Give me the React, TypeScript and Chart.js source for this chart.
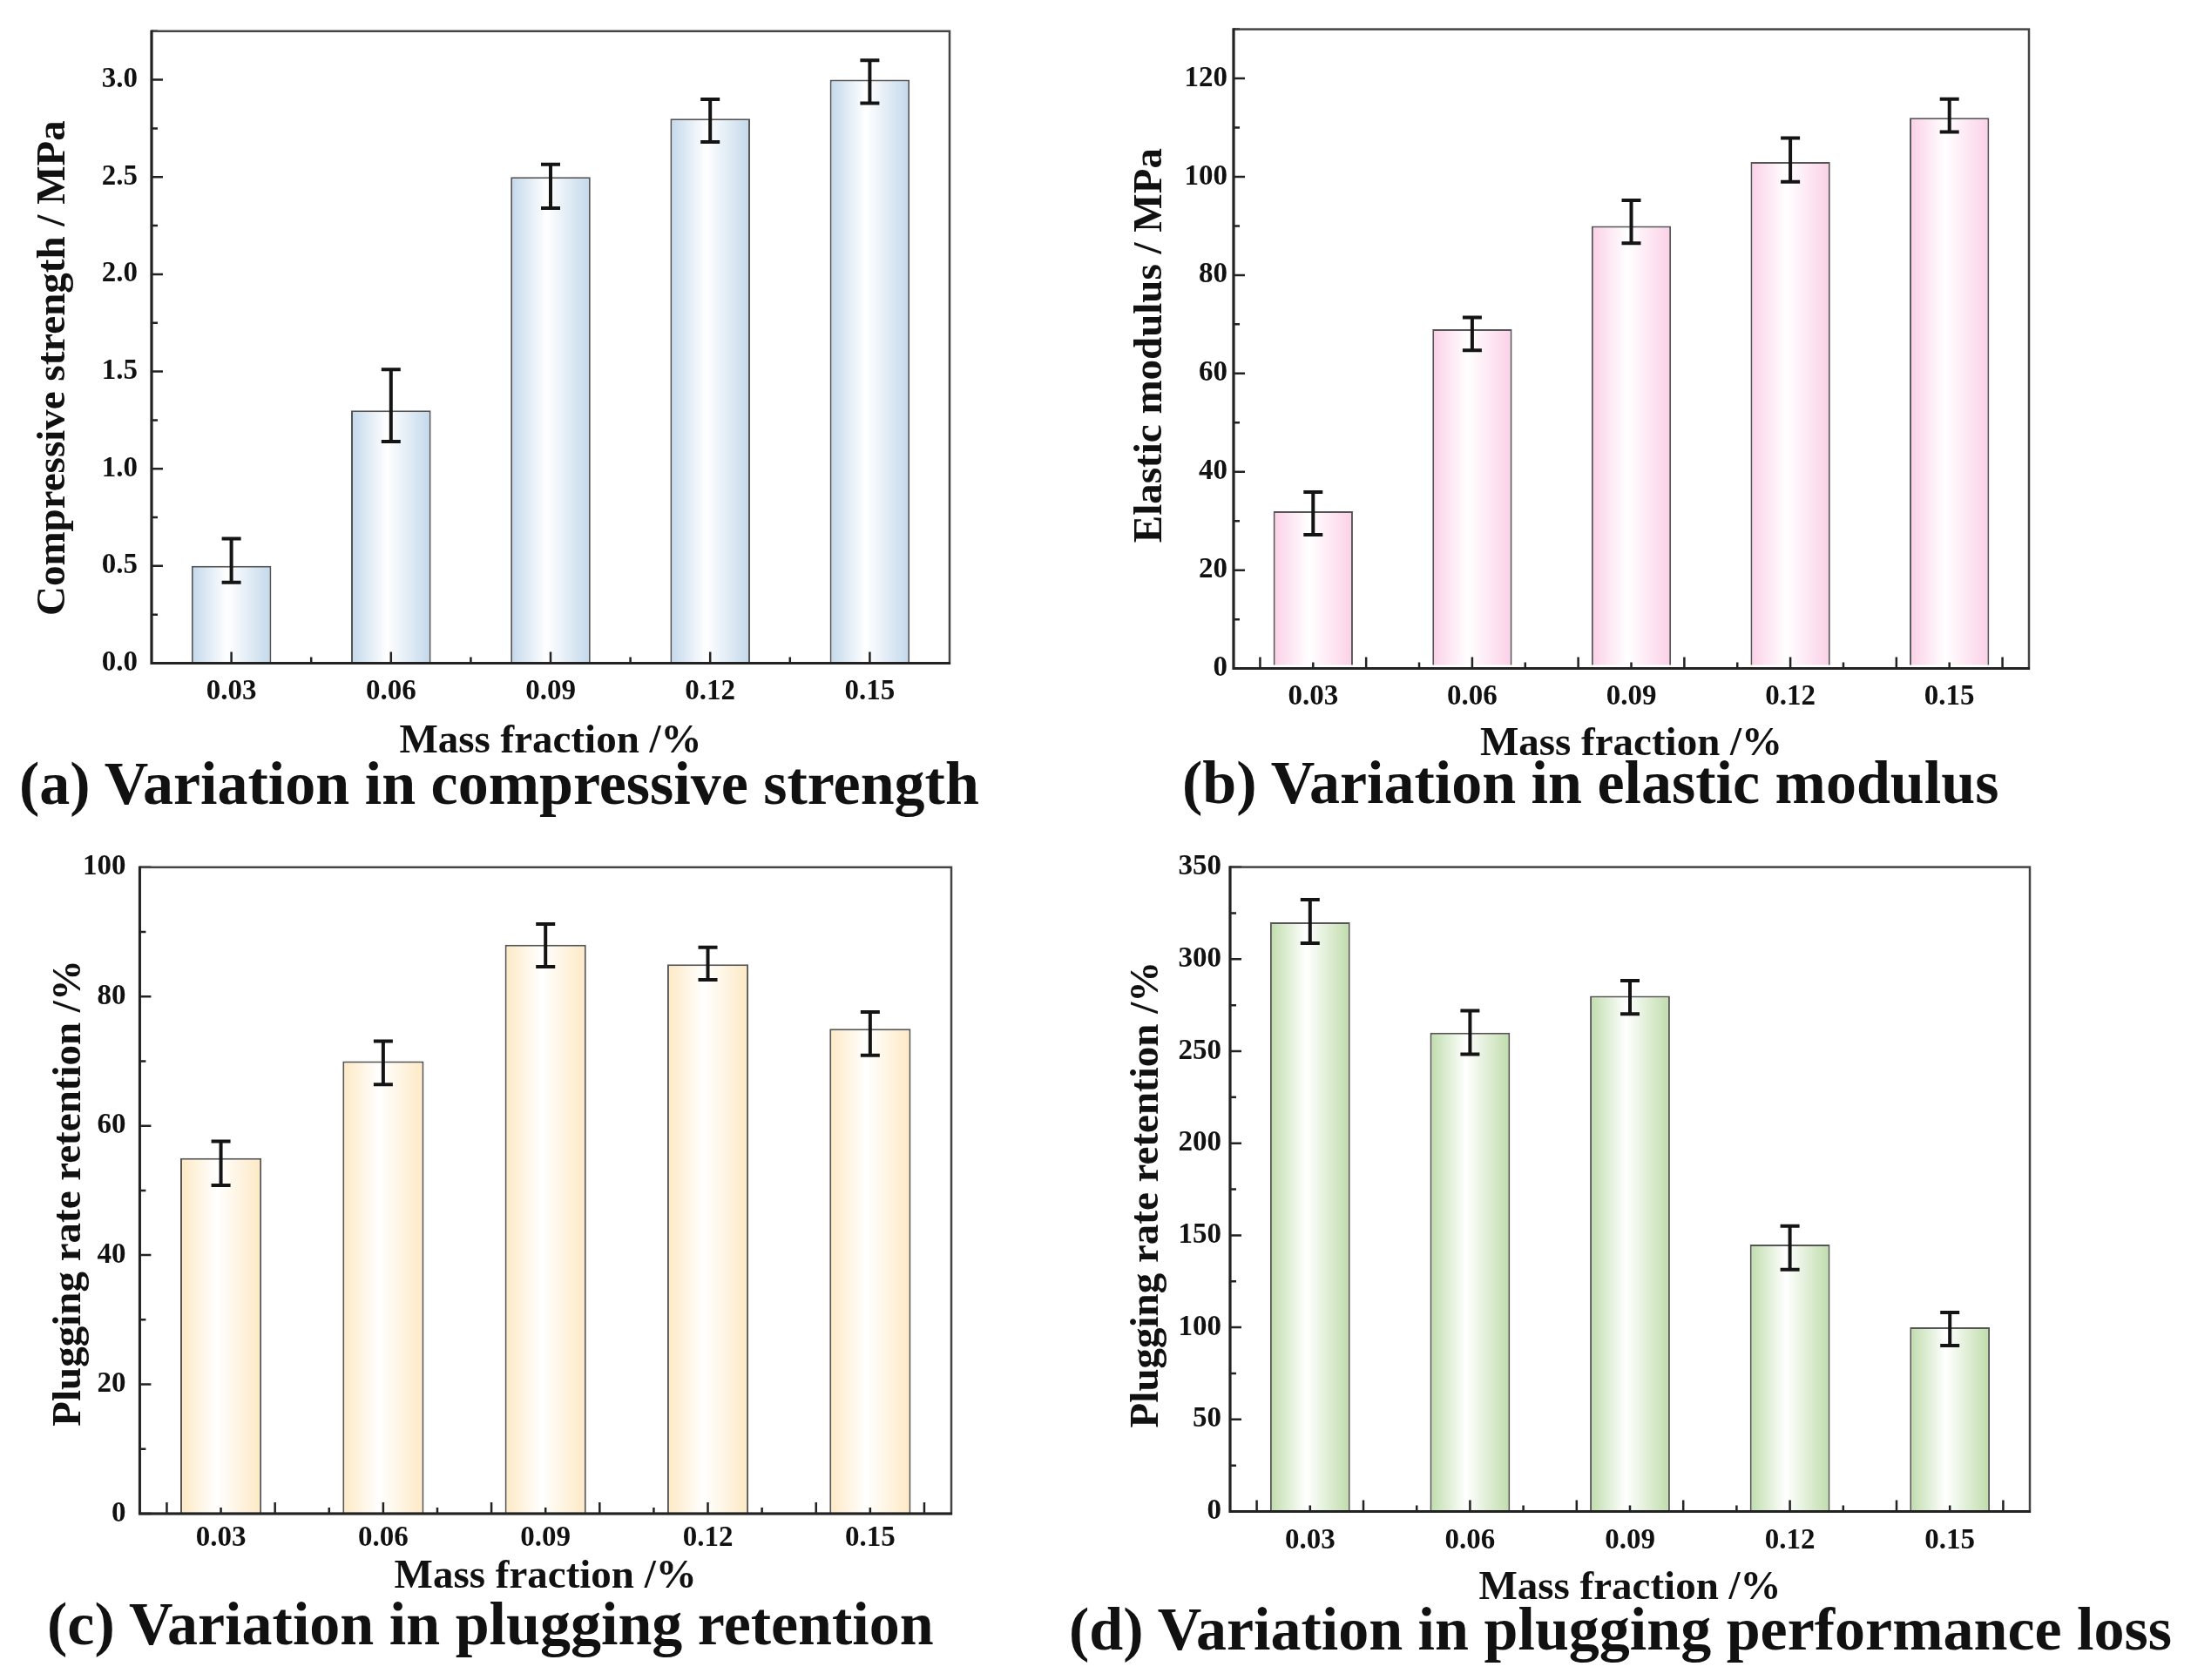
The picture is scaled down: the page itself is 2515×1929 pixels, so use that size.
import React, { useEffect, useRef } from 'react';
import { Chart, registerables } from 'chart.js';

Chart.register(...registerables);

// ---------- data ----------
const categories = ['0.03', '0.06', '0.09', '0.12', '0.15'];

const compressiveStrength = [0.5, 1.3, 2.5, 2.8, 3.0];
const compressiveErrUp = [0.14, 0.21, 0.065, 0.1, 0.1];
const compressiveErrDown = [0.085, 0.16, 0.16, 0.12, 0.12];

const elasticModulus = [32, 69, 90, 103, 112];
const elasticErrUp = [3.9, 2.4, 5.2, 4.9, 3.8];
const elasticErrDown = [4.8, 4.3, 3.5, 4.0, 2.9];

const pluggingRetention = [55, 70, 88, 85, 75];
const retentionErrUp = [2.6, 3.1, 3.2, 2.6, 2.6];
const retentionErrDown = [4.2, 3.6, 3.4, 2.4, 4.1];

const pluggingLoss = [320, 260, 280, 145, 100];
const lossErrUp = [12.3, 12, 8.3, 10, 8.1];
const lossErrDown = [11.4, 11.6, 9.8, 13.6, 9.9];

// minor x tick positions (mass fraction units)
const xTicksHalf = [0.03, 0.045, 0.06, 0.075, 0.09, 0.105, 0.12, 0.135, 0.15];
const xTicksHundredth = [0.02, 0.03, 0.04, 0.05, 0.06, 0.07, 0.08, 0.09, 0.1, 0.11, 0.12, 0.13, 0.14, 0.15, 0.16];

const FONT = "'Liberation Serif', 'Times New Roman', serif";

type Panel = {
  key: string;
  values: number[];
  up: number[];
  down: number[];
  yMax: number;
  yStep: number;
  yMinor: number;
  decimals: number;
  yTitle: string;
  color: string;
  caption: string;
  x0: number; y0: number; w: number; h: number;
  plot: { l: number; r: number; t: number; b: number };
  yTitlePad: number;
  yTitleShift: number;
  yTickPad: number;
  xTickPad: number;
  xTitlePadB: number;
  xTicks: number[];
  xMajor: (v: number) => boolean;
  captionLeft: number;
  captionTop: number;
};

const PANELS: Panel[] = [
  {
    key: 'a', values: compressiveStrength, up: compressiveErrUp, down: compressiveErrDown,
    yMax: 3.25, yStep: 0.5, yMinor: 0.25, decimals: 1,
    yTitle: 'Compressive strength / MPa', color: '#c3d8eb',
    caption: '(a) Variation in compressive strength',
    x0: 0, y0: 0, w: 1257, h: 960,
    plot: { l: 174, r: 1090, t: 22.6, b: 761.5 },
    yTitlePad: 38, yTitleShift: 24, yTickPad: 16, xTickPad: 13, xTitlePadB: 16,
    xTicks: xTicksHalf, xMajor: (v) => Math.abs(v / 0.03 - Math.round(v / 0.03)) < 1e-6,
    captionLeft: 22, captionTop: 865,
  },
  {
    key: 'b', values: elasticModulus, up: elasticErrUp, down: elasticErrDown,
    yMax: 130, yStep: 20, yMinor: 10, decimals: 0,
    yTitle: 'Elastic modulus / MPa', color: '#fbd0e7',
    caption: '(b) Variation in elastic modulus',
    x0: 1257, y0: 0, w: 1258, h: 960,
    plot: { l: 1416, r: 2329, t: 33.6, b: 767.6 },
    yTitlePad: 40.5, yTitleShift: -4, yTickPad: 7, xTickPad: 13, xTitlePadB: 19,
    xTicks: xTicksHundredth, xMajor: (v) => Math.round(v * 100) % 2 === 0,
    captionLeft: 1357, captionTop: 864,
  },
  {
    key: 'c', values: pluggingRetention, up: retentionErrUp, down: retentionErrDown,
    yMax: 100, yStep: 20, yMinor: 10, decimals: 0,
    yTitle: 'Plugging rate retention /%', color: '#fde9c4',
    caption: '(c) Variation in plugging retention',
    x0: 0, y0: 960, w: 1257, h: 969,
    plot: { l: 160.4, r: 1092, t: 986.2, b: 1738 },
    yTitlePad: 56.5, yTitleShift: 3, yTickPad: 16, xTickPad: 9, xTitlePadB: 34,
    xTicks: xTicksHundredth, xMajor: (v) => Math.round(v * 100) % 2 === 0,
    captionLeft: 54, captionTop: 1830,
  },
  {
    key: 'd', values: pluggingLoss, up: lossErrUp, down: lossErrDown,
    yMax: 350, yStep: 50, yMinor: 25, decimals: 0,
    yTitle: 'Plugging rate retention /%', color: '#bfdcab',
    caption: '(d) Variation in plugging performance loss',
    x0: 1257, y0: 960, w: 1258, h: 969,
    plot: { l: 1412, r: 2330, t: 995.6, b: 1735.5 },
    yTitlePad: 36.5, yTitleShift: 6, yTickPad: 10, xTickPad: 14, xTitlePadB: 18,
    xTicks: xTicksHundredth, xMajor: (v) => Math.round(v * 100) % 2 === 0,
    captionLeft: 1227, captionTop: 1836,
  },
];

const X_AXIS_H = 130;

const decorPlugin = {
  id: 'decor',
  afterLayout(chart: any, _args: any, opts: any) {
    // nudge the y-axis title along the axis (ticks keep their configured pixels)
    const ys = chart.scales.y;
    if (ys && opts.yTitleShift) {
      ys.top += opts.yTitleShift;
      ys.bottom += opts.yTitleShift;
    }
  },
  afterDatasetsDraw(chart: any, _args: any, opts: any) {
    const ctx = chart.ctx;
    const { left, right, top, bottom } = chart.chartArea;
    const xs = chart.scales.x;
    const ys = chart.scales.y;
    const meta = chart.getDatasetMeta(0);
    ctx.save();
    // error bars
    ctx.strokeStyle = '#141414';
    ctx.lineWidth = 4;
    ctx.lineCap = 'butt';
    meta.data.forEach((el: any, i: number) => {
      const v = opts.values[i];
      const x = el.getProps(['x'], true).x;
      const yt = ys.getPixelForValue(v + opts.up[i]);
      const yb = ys.getPixelForValue(v - opts.down[i]);
      ctx.beginPath();
      ctx.moveTo(x, yt); ctx.lineTo(x, yb);
      ctx.moveTo(x - 11, yt); ctx.lineTo(x + 11, yt);
      ctx.moveTo(x - 11, yb); ctx.lineTo(x + 11, yb);
      ctx.stroke();
    });
    // inward ticks
    ctx.strokeStyle = '#222';
    ctx.lineWidth = 2.5;
    ctx.beginPath();
    for (let k = 0; k * opts.yMinor <= opts.yMax + 1e-9; k++) {
      const v = k * opts.yMinor;
      const y = ys.getPixelForValue(v);
      const major = Math.abs(v / opts.yStep - Math.round(v / opts.yStep)) < 1e-6;
      ctx.moveTo(left, y);
      ctx.lineTo(left + (major ? 13 : 7), y);
    }
    opts.xTicks.forEach((v: number) => {
      const idx = v / 0.03 - 1;
      const x = xs.getPixelForValue(idx);
      const major = opts.xMajor(v);
      ctx.moveTo(x, bottom);
      ctx.lineTo(x, bottom - (major ? 13 : 7));
    });
    ctx.stroke();
    // frame
    ctx.strokeStyle = '#444';
    ctx.lineWidth = 2.5;
    ctx.strokeRect(left, top, right - left, bottom - top);
    ctx.strokeStyle = '#222';
    ctx.lineWidth = 3;
    ctx.beginPath();
    ctx.moveTo(left, top - 1); ctx.lineTo(left, bottom); ctx.lineTo(right + 1, bottom);
    ctx.stroke();
    ctx.restore();
  },
};

function BarPanel({ p }: { p: Panel }) {
  const ref = useRef<HTMLCanvasElement | null>(null);
  useEffect(() => {
    if (!ref.current) return;
    const yWidth = p.plot.l - p.x0;
    const padTop = p.plot.t - p.y0;
    const padRight = p.x0 + p.w - p.plot.r;
    const padBottom = p.y0 + p.h - p.plot.b - X_AXIS_H;
    const gradientFill = (c: any) => {
      const chart = c.chart;
      const xs = chart.scales && chart.scales.x;
      if (!xs || !chart.chartArea || c.dataIndex == null) return p.color;
      const x = xs.getPixelForValue(c.dataIndex);
      const w = (xs.width / categories.length) * 0.5;
      if (!isFinite(x) || !isFinite(w) || w <= 0) return p.color;
      const g = chart.ctx.createLinearGradient(x - w / 2, 0, x + w / 2, 0);
      g.addColorStop(0, p.color);
      g.addColorStop(0.45, '#ffffff');
      g.addColorStop(1, p.color);
      return g;
    };
    const chart = new Chart(ref.current, {
      type: 'bar',
      data: {
        labels: categories,
        datasets: [
          {
            data: p.values,
            backgroundColor: gradientFill,
            borderColor: '#555',
            borderWidth: 2,
            barPercentage: 1,
            categoryPercentage: 0.5,
          },
        ],
      },
      plugins: [decorPlugin as any],
      options: {
        animation: false,
        responsive: false,
        devicePixelRatio: 1,
        layout: { padding: { left: 0, top: padTop, right: padRight, bottom: padBottom } },
        plugins: {
          legend: { display: false },
          tooltip: { enabled: false },
          decor: {
            values: p.values, up: p.up, down: p.down,
            yMax: p.yMax, yStep: p.yStep, yMinor: p.yMinor, xTicks: p.xTicks, xMajor: p.xMajor,
            yTitleShift: p.yTitleShift,
          },
        } as any,
        scales: {
          x: {
            grid: { display: false, drawTicks: false },
            border: { display: false },
            ticks: {
              color: '#111',
              padding: p.xTickPad,
              font: { family: FONT, size: 33, weight: 'bold', lineHeight: 1.2 },
              maxRotation: 0,
            },
            title: {
              display: true,
              text: 'Mass fraction /%',
              color: '#111',
              font: { family: FONT, size: 47, weight: 'bold', lineHeight: 1 },
              padding: { top: 0, bottom: p.xTitlePadB },
            },
            afterFit: (s: any) => { s.height = X_AXIS_H; },
          },
          y: {
            min: 0,
            max: p.yMax,
            grid: { display: false, drawTicks: false },
            border: { display: false },
            ticks: {
              stepSize: p.yStep,
              includeBounds: false,
              color: '#111',
              padding: p.yTickPad,
              font: { family: FONT, size: 33, weight: 'bold', lineHeight: 1.2 },
              callback: (v: any) => Number(v).toFixed(p.decimals),
            },
            title: {
              display: true,
              text: p.yTitle,
              color: '#111',
              font: { family: FONT, size: 47, weight: 'bold', lineHeight: 1 },
              padding: { top: p.yTitlePad, bottom: 0 },
            },
            afterFit: (s: any) => { s.width = yWidth; },
          },
        },
      } as any,
    });
    return () => chart.destroy();
  }, [p]);
  return (
    <canvas
      ref={ref}
      width={p.w}
      height={p.h}
      style={{ position: 'absolute', left: p.x0, top: p.y0, width: p.w, height: p.h }}
    />
  );
}

export default function App() {
  return (
    <div style={{ position: 'absolute', left: 0, top: 0, width: 2515, height: 1929, background: '#fff', overflow: 'hidden' }}>
      {PANELS.map((p) => (
        <BarPanel key={p.key} p={p} />
      ))}
      {PANELS.map((p) => (
        <div
          key={'cap' + p.key}
          style={{
            position: 'absolute',
            left: p.captionLeft,
            top: p.captionTop,
            fontFamily: FONT,
            fontWeight: 'bold',
            fontSize: 70,
            lineHeight: '70px',
            whiteSpace: 'nowrap',
            color: '#111',
          }}
        >
          {p.caption}
        </div>
      ))}
    </div>
  );
}
